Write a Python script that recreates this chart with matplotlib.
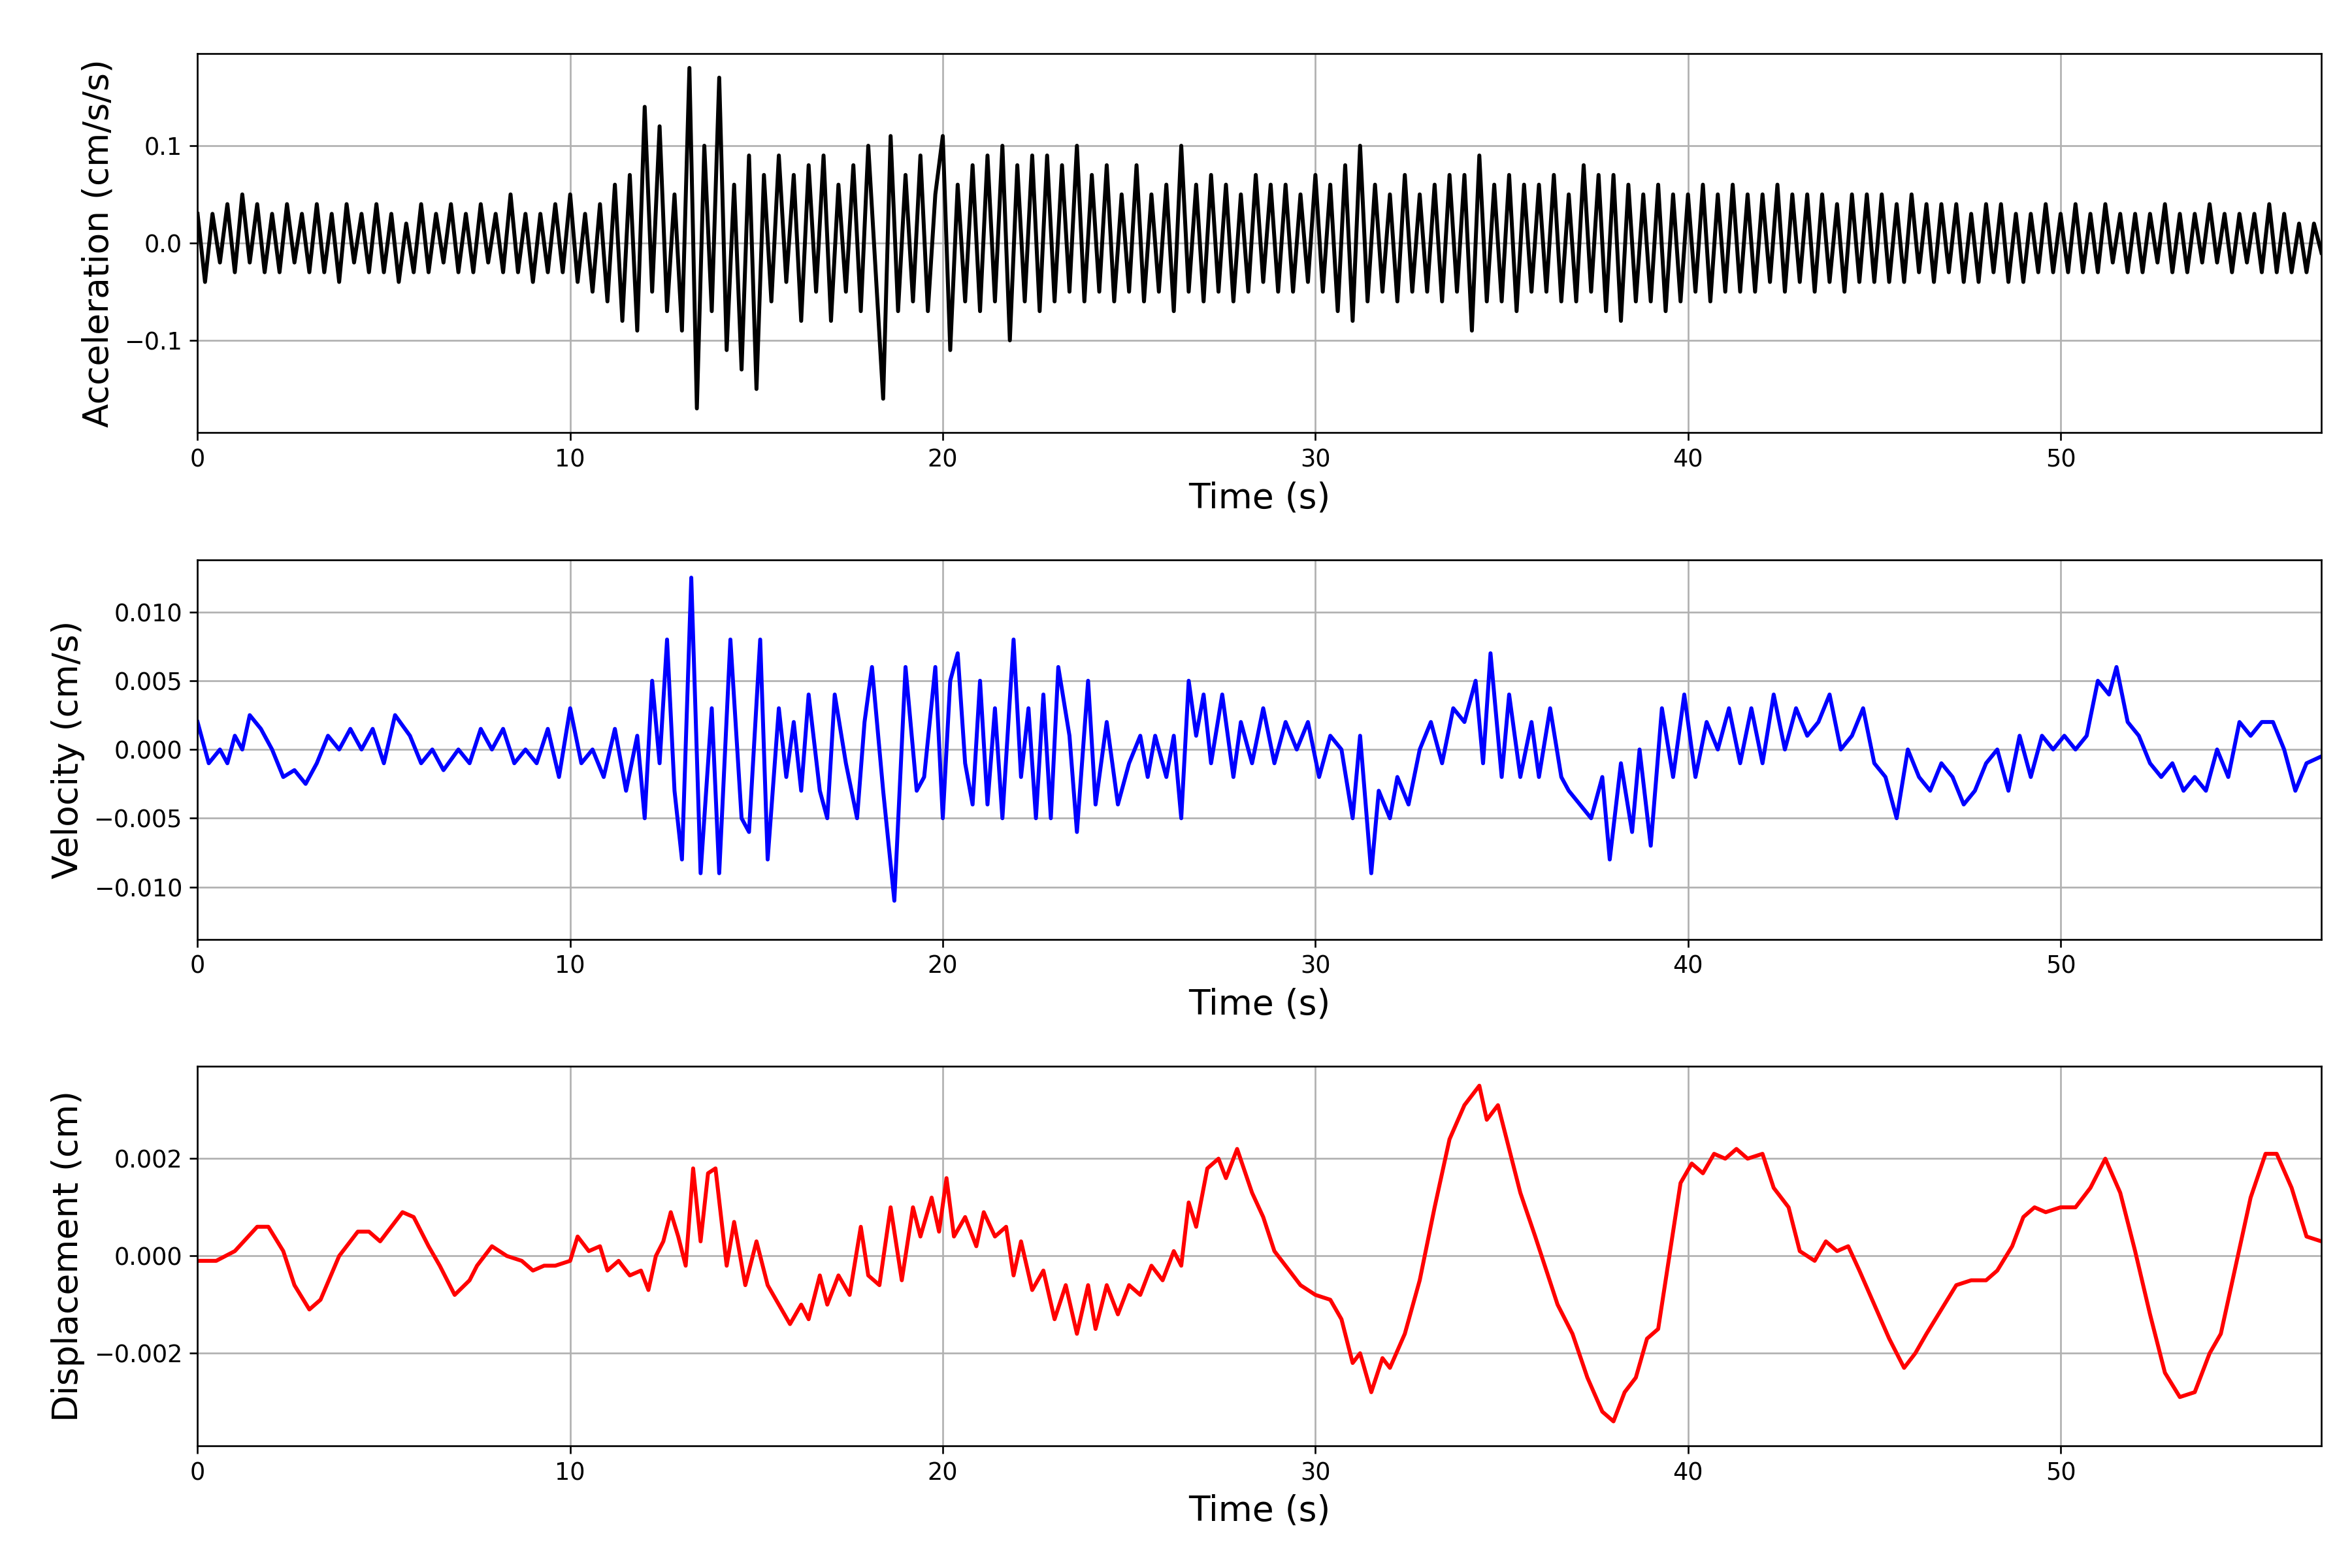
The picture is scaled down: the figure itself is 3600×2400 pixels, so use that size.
import numpy as np
import matplotlib
matplotlib.use("Agg")
import matplotlib.pyplot as plt

acc_dt = 0.2
acc_vals = [
.03,-.04,.03,-.02,.04, -.03,.05,-.02,.04,-.03, .03,-.03,.04,-.02,.03, -.03,.04,-.03,.03,-.04,
.04,-.02,.03,-.03,.04, -.03,.03,-.04,.02,-.03, .04,-.03,.03,-.02,.04, -.03,.03,-.03,.04,-.02,
.03,-.03,.05,-.03,.03, -.04,.03,-.03,.04,-.03, .05,-.04,.03,-.05,.04, -.06,.06,-.08,.07,-.09,
.14,-.05,.12,-.07,.05, -.09,.18,-.17,.10,-.07, .17,-.11,.06,-.13,.09, -.15,.07,-.06,.09,-.04,
.07,-.08,.08,-.05,.09, -.08,.06,-.05,.08,-.07, .10,-.03,-.16,.11,-.07, .07,-.06,.09,-.07,.05,
.11,-.11,.06,-.06,.08, -.07,.09,-.06,.10,-.10, .08,-.06,.09,-.07,.09, -.06,.08,-.05,.10,-.06,
.07,-.05,.08,-.06,.05, -.05,.08,-.06,.05,-.05, .06,-.07,.10,-.05,.06, -.06,.07,-.05,.06,-.06,
.05,-.05,.07,-.04,.06, -.05,.06,-.05,.05,-.04, .07,-.05,.06,-.07,.08, -.08,.10,-.06,.06,-.05,
.05,-.06,.07,-.05,.05, -.05,.06,-.06,.07,-.05, .07,-.09,.09,-.06,.06, -.06,.07,-.07,.06,-.05,
.06,-.05,.07,-.06,.05, -.06,.08,-.05,.07,-.07, .07,-.08,.06,-.06,.05, -.06,.06,-.07,.05,-.06,
.05,-.05,.06,-.06,.05, -.05,.06,-.05,.05,-.05, .05,-.04,.06,-.05,.05, -.04,.05,-.05,.05,-.04,
.04,-.05,.05,-.04,.05, -.04,.05,-.04,.04,-.04, .05,-.03,.04,-.04,.04, -.03,.04,-.04,.03,-.04,
.04,-.03,.04,-.04,.03, -.04,.03,-.03,.04,-.03, .03,-.03,.04,-.03,.03, -.03,.04,-.02,.03,-.03,
.03,-.03,.03,-.02,.04, -.03,.03,-.03,.03,-.02, .04,-.02,.03,-.03,.03, -.02,.03,-.03,.04,-.03,
.03,-.03,.02,-.03,.02, -.01]

vel_t = [0,0.3,0.6,0.8,1.0,1.2,1.4,1.7,2.0,2.3,2.6,2.9,3.2,3.5,3.8,4.1,4.4,4.7,5.0,5.3,5.7,6.0,6.3,6.6,7.0,7.3,7.6,7.9,8.2,8.5,8.8,9.1,9.4,9.7,10.0,10.3,10.6,10.9,11.2,11.5,11.8,12.0,12.2,12.4,12.6,12.8,13.0,13.25,13.5,13.8,14.0,14.3,14.6,14.8,15.1,15.3,15.6,15.8,16.0,16.2,16.4,16.7,16.9,17.1,17.4,17.7,17.9,18.1,18.4,18.7,19.0,19.3,19.5,19.8,20.0,20.2,20.4,20.6,20.8,21.0,21.2,21.4,21.6,21.9,22.1,22.3,22.5,22.7,22.9,23.1,23.4,23.6,23.9,24.1,24.4,24.7,25.0,25.3,25.5,25.7,26.0,26.2,26.4,26.6,26.8,27.0,27.2,27.5,27.8,28.0,28.3,28.6,28.9,29.2,29.5,29.8,30.1,30.4,30.7,31.0,31.2,31.5,31.7,32.0,32.2,32.5,32.8,33.1,33.4,33.7,34.0,34.3,34.5,34.7,35.0,35.2,35.5,35.8,36.0,36.3,36.6,36.8,37.1,37.4,37.7,37.9,38.2,38.5,38.7,39.0,39.3,39.6,39.9,40.2,40.5,40.8,41.1,41.4,41.7,42.0,42.3,42.6,42.9,43.2,43.5,43.8,44.1,44.4,44.7,45.0,45.3,45.6,45.9,46.2,46.5,46.8,47.1,47.4,47.7,48.0,48.3,48.6,48.9,49.2,49.5,49.8,50.1,50.4,50.7,51.0,51.3,51.5,51.8,52.1,52.4,52.7,53.0,53.3,53.6,53.9,54.2,54.5,54.8,55.1,55.4,55.7,56.0,56.3,56.6,57.0]
vel_v = [0.002,-0.001,0.000,-0.001,0.001,-0.000,0.0025,0.0015,0.000,-0.002,-0.0015,-0.0025,-0.001,0.001,0.000,0.0015,0.000,0.0015,-0.001,0.0025,0.001,-0.001,0.000,-0.0015,0.000,-0.001,0.0015,0.000,0.0015,-0.001,0.000,-0.001,0.0015,-0.002,0.003,-0.001,0.000,-0.002,0.0015,-0.003,0.001,-0.005,0.005,-0.001,0.008,-0.003,-0.008,0.0125,-0.009,0.003,-0.009,0.008,-0.005,-0.006,0.008,-0.008,0.003,-0.002,0.002,-0.003,0.004,-0.003,-0.005,0.004,-0.001,-0.005,0.002,0.006,-0.003,-0.011,0.006,-0.003,-0.002,0.006,-0.005,0.005,0.007,-0.001,-0.004,0.005,-0.004,0.003,-0.005,0.008,-0.002,0.003,-0.005,0.004,-0.005,0.006,0.001,-0.006,0.005,-0.004,0.002,-0.004,-0.001,0.001,-0.002,0.001,-0.002,0.001,-0.005,0.005,0.001,0.004,-0.001,0.004,-0.002,0.002,-0.001,0.003,-0.001,0.002,0.000,0.002,-0.002,0.001,0.000,-0.005,0.001,-0.009,-0.003,-0.005,-0.002,-0.004,0.000,0.002,-0.001,0.003,0.002,0.005,-0.001,0.007,-0.002,0.004,-0.002,0.002,-0.002,0.003,-0.002,-0.003,-0.004,-0.005,-0.002,-0.008,-0.001,-0.006,0.000,-0.007,0.003,-0.002,0.004,-0.002,0.002,0.000,0.003,-0.001,0.003,-0.001,0.004,0.000,0.003,0.001,0.002,0.004,0.000,0.001,0.003,-0.001,-0.002,-0.005,0.000,-0.002,-0.003,-0.001,-0.002,-0.004,-0.003,-0.001,0.000,-0.003,0.001,-0.002,0.001,0.000,0.001,0.000,0.001,0.005,0.004,0.006,0.002,0.001,-0.001,-0.002,-0.001,-0.003,-0.002,-0.003,0.000,-0.002,0.002,0.001,0.002,0.002,0.000,-0.003,-0.001,-0.0005]

disp_t = [0,0.5,1,1.6,1.9,2.3,2.6,3.0,3.3,3.8,4.3,4.6,4.9,5.1,5.5,5.8,6.2,6.5,6.9,7.3,7.5,7.9,8.3,8.7,9.0,9.3,9.6,10.0,10.2,10.5,10.8,11.0,11.3,11.6,11.9,12.1,12.3,12.5,12.7,12.9,13.1,13.3,13.5,13.7,13.9,14.2,14.4,14.7,15.0,15.3,15.6,15.9,16.2,16.4,16.7,16.9,17.2,17.5,17.8,18.0,18.3,18.6,18.9,19.2,19.4,19.7,19.9,20.1,20.3,20.6,20.9,21.1,21.4,21.7,21.9,22.1,22.4,22.7,23.0,23.3,23.6,23.9,24.1,24.4,24.7,25.0,25.3,25.6,25.9,26.2,26.4,26.6,26.8,27.1,27.4,27.6,27.9,28.3,28.6,28.9,29.2,29.6,30.0,30.4,30.7,31.0,31.2,31.5,31.8,32.0,32.4,32.8,33.2,33.6,34.0,34.4,34.6,34.9,35.2,35.5,35.9,36.2,36.5,36.9,37.3,37.7,38.0,38.3,38.6,38.9,39.2,39.5,39.8,40.1,40.4,40.7,41.0,41.3,41.6,42.0,42.3,42.7,43.0,43.4,43.7,44.0,44.3,44.6,45.0,45.4,45.8,46.1,46.4,46.8,47.2,47.6,48.0,48.3,48.7,49.0,49.3,49.6,50.0,50.4,50.8,51.2,51.6,52.0,52.4,52.8,53.2,53.6,54.0,54.3,54.7,55.1,55.5,55.8,56.2,56.6,57.0]
disp_v = [-0.0001,-0.0001,0.0001,0.0006,0.0006,0.0001,-0.0006,-0.0011,-0.0009,0.0000,0.0005,0.0005,0.0003,0.0005,0.0009,0.0008,0.0002,-0.0002,-0.0008,-0.0005,-0.0002,0.0002,0.0000,-0.0001,-0.0003,-0.0002,-0.0002,-0.0001,0.0004,0.0001,0.0002,-0.0003,-0.0001,-0.0004,-0.0003,-0.0007,0.0000,0.0003,0.0009,0.0004,-0.0002,0.0018,0.0003,0.0017,0.0018,-0.0002,0.0007,-0.0006,0.0003,-0.0006,-0.0010,-0.0014,-0.0010,-0.0013,-0.0004,-0.0010,-0.0004,-0.0008,0.0006,-0.0004,-0.0006,0.0010,-0.0005,0.0010,0.0004,0.0012,0.0005,0.0016,0.0004,0.0008,0.0002,0.0009,0.0004,0.0006,-0.0004,0.0003,-0.0007,-0.0003,-0.0013,-0.0006,-0.0016,-0.0006,-0.0015,-0.0006,-0.0012,-0.0006,-0.0008,-0.0002,-0.0005,0.0001,-0.0002,0.0011,0.0006,0.0018,0.0020,0.0016,0.0022,0.0013,0.0008,0.0001,-0.0002,-0.0006,-0.0008,-0.0009,-0.0013,-0.0022,-0.0020,-0.0028,-0.0021,-0.0023,-0.0016,-0.0005,0.0010,0.0024,0.0031,0.0035,0.0028,0.0031,0.0022,0.0013,0.0004,-0.0003,-0.0010,-0.0016,-0.0025,-0.0032,-0.0034,-0.0028,-0.0025,-0.0017,-0.0015,0.0000,0.0015,0.0019,0.0017,0.0021,0.0020,0.0022,0.0020,0.0021,0.0014,0.0010,0.0001,-0.0001,0.0003,0.0001,0.0002,-0.0003,-0.0010,-0.0017,-0.0023,-0.0020,-0.0016,-0.0011,-0.0006,-0.0005,-0.0005,-0.0003,0.0002,0.0008,0.0010,0.0009,0.0010,0.0010,0.0014,0.0020,0.0013,0.0001,-0.0012,-0.0024,-0.0029,-0.0028,-0.0020,-0.0016,-0.0002,0.0012,0.0021,0.0021,0.0014,0.0004,0.0003]

acc_t = np.arange(len(acc_vals)) * acc_dt

fig = plt.figure(figsize=(15, 10), dpi=240)
rects = [[0.084, 0.724, 0.903, 0.242], [0.084, 0.401, 0.903, 0.242], [0.084, 0.078, 0.903, 0.242]]
series = [(acc_t, acc_vals, 'k', 'Acceleration (cm/s/s)'),
          (vel_t, vel_v, 'b', 'Velocity (cm/s)'),
          (disp_t, disp_v, 'r', 'Displacement (cm)')]
for r, (t, v, c, lab) in zip(rects, series):
    ax = fig.add_axes(r)
    ax.plot(t, v, color=c, lw=1.8)
    ax.set_xlim(0, 57)
    ax.grid(True, color='#b0b0b0')
    ax.set_axisbelow(True)
    ax.set_xlabel('Time (s)', fontsize=16)
    ax.set_ylabel(lab, fontsize=16)
    ax.tick_params(labelsize=11)
fig.axes[0].set_ylim(-0.195, 0.195)
fig.axes[1].set_ylim(-0.0138, 0.0138)
fig.axes[2].set_ylim(-0.0039, 0.0039)
fig.axes[0].set_yticks([-0.1, 0.0, 0.1])
fig.axes[1].set_yticks([-0.010, -0.005, 0.0, 0.005, 0.010])
fig.axes[2].set_yticks([-0.002, 0.0, 0.002])
fig.savefig('out.png', dpi=240)
